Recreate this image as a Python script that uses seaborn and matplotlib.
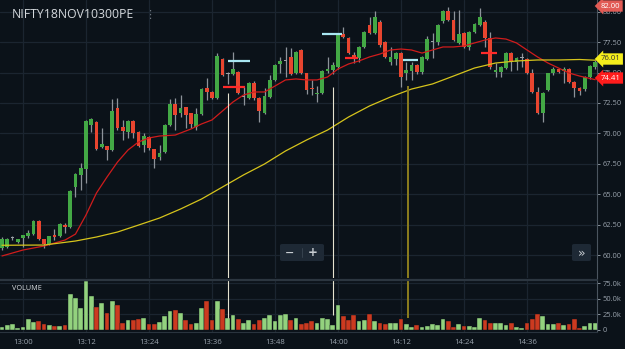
import numpy as np
import pandas as pd
import matplotlib.pyplot as plt
import seaborn as sns
from matplotlib.patches import FancyBboxPatch

# colours
bg = "#0b1219"
grid_c = "#1b2530"
txt_c = "#9aa3ad"
up_c = "#43a845"
down_c = "#e8452f"
doji_c = "#9aa0a6"
wick_c = "#8d939a"

# one-minute candles, 12:56 -> 14:49
opens = [60.57, 60.66, 61.38, 61.07, 61.40, 61.56, 61.72, 62.79, 61.31, 60.90,
         61.64, 61.56, 62.46, 62.30, 65.59, 66.58, 67.07, 70.69, 70.93, 68.88,
         68.96, 68.63, 72.08, 70.52, 70.11, 71.01, 70.11, 69.04, 69.70, 68.71,
         68.06, 68.47, 70.69, 72.41, 71.67, 72.16, 71.67, 70.52, 71.59, 73.73,
         73.40, 72.90, 76.11, 74.86, 74.88, 75.04, 72.98, 72.90, 74.14, 72.90,
         71.67, 72.98, 74.39, 75.70, 75.95, 76.28, 74.96, 76.85, 74.96, 73.73,
         73.25, 73.32, 75.13, 75.21, 75.45, 78.17, 77.84, 76.44, 76.19, 77.10,
         78.90, 78.25, 79.15, 77.51, 75.86, 76.11, 76.60, 74.96, 75.13, 75.62,
         75.04, 76.11, 77.49, 77.51, 79.23, 80.06, 79.32, 77.43, 78.25, 77.10,
         78.33, 78.90, 79.15, 77.84, 75.04, 75.04, 75.37, 76.60, 75.86, 76.17,
         76.11, 74.96, 73.40, 71.67, 73.56, 74.96, 75.29, 75.13, 75.29, 74.22,
         73.73, 73.64, 74.63, 75.45]
highs = [61.45, 61.40, 61.55, 61.35, 61.68, 62.05, 62.85, 62.85, 61.35, 61.60,
         62.14, 62.60, 62.63, 65.34, 66.70, 67.56, 71.10, 71.30, 71.00, 70.44,
         69.00, 72.82, 72.90, 71.10, 71.10, 71.10, 70.20, 70.03, 69.80, 68.75,
         69.04, 70.80, 72.82, 72.90, 73.15, 72.20, 71.70, 72.08, 73.70, 74.55,
         73.45, 76.60, 76.20, 75.04, 76.69, 75.10, 73.81, 74.20, 74.30, 72.95,
         73.73, 74.80, 75.70, 76.28, 77.10, 77.00, 76.80, 76.95, 75.00, 74.39,
         73.89, 75.20, 76.28, 75.86, 78.20, 78.74, 77.90, 76.69, 77.20, 78.40,
         79.56, 80.06, 79.30, 77.60, 77.10, 76.70, 76.70, 75.86, 75.86, 75.70,
         76.35, 78.00, 78.25, 79.00, 80.15, 80.39, 80.06, 80.14, 78.30, 78.40,
         79.10, 80.30, 79.30, 78.33, 75.78, 75.55, 76.70, 76.70, 76.28, 76.60,
         76.20, 75.29, 73.81, 73.40, 75.00, 75.45, 75.40, 75.45, 75.35, 74.30,
         73.80, 74.70, 75.60, 76.00]
lows = [60.45, 60.60, 61.25, 61.00, 60.66, 61.40, 61.65, 61.25, 60.57, 60.85,
        61.23, 61.50, 61.81, 62.20, 64.77, 65.34, 65.92, 70.11, 68.60, 68.80,
        67.81, 68.55, 70.30, 69.45, 69.62, 69.62, 68.90, 68.47, 68.60, 67.15,
        67.80, 68.40, 70.60, 70.27, 71.34, 70.44, 70.44, 70.27, 71.50, 72.74,
        72.80, 72.80, 74.70, 74.06, 74.80, 73.20, 72.33, 72.85, 72.70, 70.93,
        71.60, 72.90, 74.30, 74.96, 74.63, 74.80, 74.90, 74.90, 73.20, 73.15,
        72.58, 73.20, 75.00, 74.88, 75.30, 77.80, 76.50, 75.78, 75.86, 77.00,
        78.15, 78.15, 77.10, 76.20, 75.62, 75.62, 73.81, 74.39, 74.39, 74.90,
        74.90, 76.00, 76.19, 77.26, 79.07, 79.20, 77.60, 77.35, 77.00, 76.85,
        78.25, 78.80, 77.10, 75.30, 74.63, 74.63, 75.30, 75.13, 75.21, 75.45,
        74.90, 73.30, 71.60, 70.93, 73.50, 74.80, 74.96, 74.14, 74.10, 72.98,
        73.15, 73.50, 74.50, 75.30]
closes = [61.31, 61.31, 61.40, 61.31, 61.64, 61.81, 62.79, 61.31, 60.90, 61.56,
          61.48, 62.55, 62.30, 65.26, 66.66, 67.15, 71.01, 71.18, 68.71, 69.12,
          68.63, 71.84, 70.44, 70.19, 71.01, 70.03, 68.96, 69.78, 68.79, 67.89,
          68.38, 70.69, 72.41, 71.51, 72.08, 71.51, 70.77, 71.59, 73.64, 73.40,
          72.90, 76.36, 74.80, 74.88, 75.29, 73.32, 73.00, 74.14, 72.90, 71.84,
          73.07, 74.39, 75.62, 75.95, 75.97, 74.88, 76.69, 74.96, 73.56, 73.64,
          73.32, 75.13, 75.29, 75.62, 78.08, 77.92, 76.60, 76.28, 77.10, 78.33,
          78.25, 79.56, 77.26, 76.28, 76.28, 76.60, 74.63, 75.21, 75.62, 75.04,
          76.28, 77.75, 77.51, 78.90, 80.06, 79.32, 77.67, 78.17, 77.10, 78.33,
          78.99, 79.56, 77.84, 75.45, 75.21, 75.45, 76.60, 75.86, 76.19, 76.19,
          74.96, 73.40, 71.67, 73.32, 74.96, 75.29, 75.04, 75.29, 74.22, 73.73,
          73.48, 74.63, 75.54, 75.86]
volume_k = [5.3, 8, 10, 3.7, 5.3, 17, 13, 14, 10, 8,
            7, 7, 8, 57.6, 52, 34.7, 78, 54, 37, 44,
            28, 46, 40, 10.7, 16, 16, 17.6, 20, 9, 9.6,
            13, 22, 30, 32, 26.7, 16, 9.6, 10.7, 35, 46,
            16, 46, 33, 20, 24.5, 17, 12, 15.5, 9.6, 16.5,
            18.7, 24, 15, 24, 25.6, 16, 18.7, 9.6, 12, 14,
            12, 18.7, 17, 7.5, 40, 22, 16, 23.5, 15, 15.5,
            25, 15, 10.7, 9, 12, 12, 17.6, 9.6, 4.8, 7.5,
            4.8, 6.4, 9, 8, 17, 14, 4.8, 9.6, 6.4, 7,
            4.8, 18.7, 16, 10.7, 10.7, 10.7, 8, 10.7, 5.3, 3.7,
            10.7, 17, 25, 22, 9, 9, 12, 8, 9.6, 17.6,
            3.7, 7, 12, 11.5]

# moving averages (minute index -> value)
fast_idx = [0, 4, 8, 12, 14, 16, 18, 20, 22, 24, 26, 28, 30, 33, 36, 38, 40, 42,
            44, 46, 48, 50, 52, 54, 56, 58, 60, 62, 64, 66, 68, 70, 72, 74, 76,
            78, 80, 82, 84, 86, 88, 90, 92, 94, 96, 98, 100, 102, 104, 106, 108,
            110, 113]
fast_ma = [59.92, 60.41, 60.74, 61.23, 61.72, 63.29, 65.10, 66.41, 67.64, 68.63,
           69.29, 69.62, 69.78, 69.86, 70.36, 70.77, 71.10, 71.84, 72.58, 73.15,
           73.40, 73.40, 73.89, 74.39, 74.47, 74.39, 74.39, 74.63, 75.29, 75.70,
           75.95, 76.28, 76.52, 76.85, 76.93, 76.85, 76.60, 76.85, 77.10, 77.10,
           77.18, 77.43, 77.67, 77.84, 77.75, 77.43, 76.85, 76.28, 75.78, 75.37,
           74.96, 74.71, 74.41]
slow_idx = [0, 8, 14, 18, 22, 26, 30, 34, 38, 42, 46, 50, 54, 58, 62, 66, 70,
            74, 78, 82, 86, 90, 94, 98, 102, 106, 110, 113]
slow_ma = [60.80, 60.82, 61.15, 61.48, 61.89, 62.46, 63.04, 63.78, 64.60, 65.59,
           66.58, 67.48, 68.55, 69.45, 70.27, 71.34, 72.25, 72.99, 73.64, 74.06,
           74.71, 75.37, 75.78, 75.95, 76.03, 76.03, 76.07, 76.01]

time_ticks = [4, 16, 28, 40, 52, 64, 76, 88, 100]
time_labels = ["13:00", "13:12", "13:24", "13:36", "13:48", "14:00", "14:12", "14:24", "14:36"]
price_ticks = [60, 62.5, 65, 67.5, 70, 72.5, 75, 77.5, 80]
vol_ticks = [0, 25, 50, 75]
vol_labels = ["0", "25.0k", "50.0k", "75.0k"]

# drawn markers
vline_idx = [43, 63, 77.3]
vline_top = [73.32, 73.81, 73.89]
vline_vol = [20, 24, 19]
vline_col = ["#e6e3d0", "#e6e3d0", "#8c7d1e"]
cyan_start = [43, 61, 76.4]
cyan_end = [47.2, 64.8, 79.2]
cyan_price = [75.95, 78.17, 76.03]
red_start = [42.1, 65.3, 91.2]
red_end = [46.3, 67.8, 94.3]
red_price = [73.81, 76.19, 76.60]

df = pd.DataFrame({"open": opens, "high": highs, "low": lows, "close": closes, "vol": volume_k})
df["idx"] = np.arange(len(df))
diff = df["close"] - df["open"]
df["col"] = np.where(diff.abs() < 0.05, doji_c, np.where(diff > 0, up_c, down_c))
df["vcol"] = np.where(diff >= 0, "#93d27e", "#cc3a20")

sns.set_theme(style="dark", rc={"axes.facecolor": bg, "figure.facecolor": bg})
plt.rcParams["font.family"] = ["Open Sans", "DejaVu Sans"]

W, H = 625, 349
fig = plt.figure(figsize=(W / 100, H / 100), dpi=100)
ax = fig.add_axes([0, 71 / H, 597 / W, 278 / H])
axv = fig.add_axes([0, 17 / H, 597 / W, 53 / H])

xlim = (-0.38, 113.33)

# price pane
for t in time_ticks:
    ax.axvline(t, color=grid_c, lw=0.9, zorder=0)
for p in price_ticks:
    ax.axhline(p, color=grid_c, lw=0.9, zorder=0)

ax.vlines(df["idx"], df["low"], df["high"], color=wick_c, lw=0.9, zorder=2)
body = np.maximum(diff.abs(), 0.07)
ax.bar(df["idx"], body, bottom=np.minimum(df["open"], df["close"]), width=0.68,
       color=df["col"], edgecolor="none", zorder=3)

sns.lineplot(x=fast_idx, y=fast_ma, ax=ax, color="#d01c1c", lw=0.9, zorder=4)
sns.lineplot(x=slow_idx, y=slow_ma, ax=ax, color="#d6c41c", lw=0.9, zorder=4)

for i in range(3):
    ax.vlines(vline_idx[i], 50, vline_top[i], color=vline_col[i],
              lw=1.4 if i == 2 else 0.8, zorder=5)
ax.hlines(cyan_price, cyan_start, cyan_end, color="#a9e7f2", lw=1.6, zorder=6)
ax.hlines(red_price, red_start, red_end, color="#ff2a2a", lw=1.6, zorder=6)

ax.set_xlim(*xlim)
ax.set_ylim(58.11, 80.96)
ax.yaxis.tick_right()
ax.set_yticks(price_ticks)
ax.set_yticklabels([f"{p:.2f}" for p in price_ticks])
ax.tick_params(axis="y", colors=txt_c, labelsize=5.4, length=2, width=0.6, pad=2)
ax.set_xticks([])
for s in ["top", "left", "bottom"]:
    ax.spines[s].set_visible(False)
ax.spines["right"].set_color("#4b555f")
ax.spines["right"].set_linewidth(0.8)
ax.grid(False)

# volume pane
for t in time_ticks:
    axv.axvline(t, color=grid_c, lw=0.9, zorder=0)
for v in vol_ticks[1:]:
    axv.axhline(v, color=grid_c, lw=0.9, zorder=0)
axv.bar(df["idx"], df["vol"], width=0.92, color=df["vcol"], edgecolor=bg, lw=0.3, zorder=2)
for i in range(3):
    axv.vlines(vline_idx[i], vline_vol[i], 100, color=vline_col[i],
               lw=1.4 if i == 2 else 0.8, zorder=5)
axv.set_xlim(*xlim)
axv.set_ylim(-3.2, 81.6)
axv.yaxis.tick_right()
axv.set_yticks(vol_ticks)
axv.set_yticklabels(vol_labels)
axv.set_xticks(time_ticks)
axv.set_xticklabels(time_labels)
axv.tick_params(axis="y", colors=txt_c, labelsize=5.4, length=2, width=0.6, pad=2)
axv.tick_params(axis="x", colors=txt_c, labelsize=5.6, length=0, pad=5)
for s in ["top", "left"]:
    axv.spines[s].set_visible(False)
axv.spines["right"].set_color("#4b555f")
axv.spines["right"].set_linewidth(0.8)
axv.spines["bottom"].set_color("#2a343e")
axv.spines["bottom"].set_linewidth(0.8)
axv.grid(False)
axv.text(0.02, 0.82, "VOLUME", transform=axv.transAxes, color="#d8dce0",
         fontsize=5.2, va="center")

# pane separator
fig.add_artist(plt.Line2D([0, 597 / W], [1 - 279.5 / H] * 2, color="#2c3640", lw=1.6))

# title
fig.text(12 / W, 1 - 15 / H, "NIFTY18NOV10300PE", color="#d4d8dc", fontsize=8.8, va="center")
fig.text(150 / W, 1 - 15 / H, "\u22ee", color="#6c757e", fontsize=8, va="center", ha="center",
         family="DejaVu Sans")

# zoom buttons
fig.add_artist(FancyBboxPatch((280 / W, 1 - 261 / H), 44 / W, 17 / H,
                              boxstyle="round,pad=0,rounding_size=0.004",
                              transform=fig.transFigure, fc="#1e2935", ec="none"))
fig.add_artist(plt.Line2D([302 / W] * 2, [1 - 257 / H, 1 - 248 / H], color="#3a4652", lw=0.6))
fig.text(290 / W, 1 - 252.5 / H, "\u2212", color="#c8cdd2", fontsize=8, ha="center", va="center",
         family="DejaVu Sans", weight="bold")
fig.text(313 / W, 1 - 252.5 / H, "+", color="#c8cdd2", fontsize=8.5, ha="center", va="center",
         family="DejaVu Sans", weight="bold")
fig.add_artist(FancyBboxPatch((572 / W, 1 - 261 / H), 19 / W, 17 / H,
                              boxstyle="round,pad=0,rounding_size=0.004",
                              transform=fig.transFigure, fc="#1e2935", ec="none"))
fig.text(581.5 / W, 1 - 253 / H, "\u00bb", color="#c8cdd2", fontsize=9, ha="center", va="center",
         family="DejaVu Sans")

# price tags, drawn over the axis labels
def tag(y_px, s, fc, tc):
    fig.text(601 / W, 1 - y_px / H, s, color=tc, fontsize=5.6, va="center", ha="left",
             zorder=10, bbox=dict(boxstyle="larrow,pad=0.28", fc=fc, ec="none"))

tag(6, "82.00", "#e25b55", "white")
tag(59, "76.01", "#f5ee1c", "#333333")
tag(78, "74.41", "#ff1c1c", "white")

fig.savefig("out.png", dpi=100, facecolor=bg)
